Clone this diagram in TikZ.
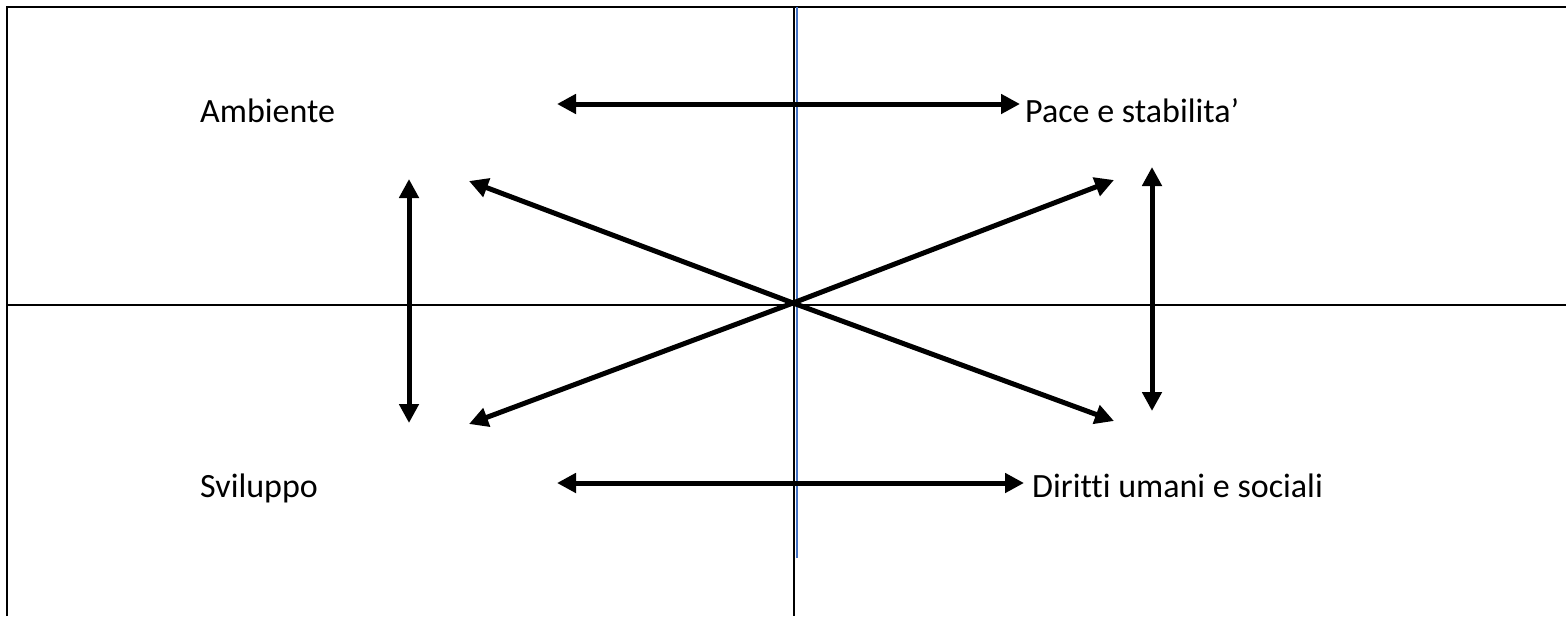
\documentclass[tikz,border=0pt]{standalone}
\usepackage{fontspec}
\setmainfont[Ligatures=NoCommon]{Carlito}
\usetikzlibrary{arrows.meta}
\tikzset{
  frame/.style={line width=1.8pt, black},
  link/.style={line width=5pt, black, {Triangle[length=19pt,width=19pt]}-{Triangle[length=19pt,width=19pt]}},
  ray/.style={line width=5pt, black, -{Triangle[length=19pt,width=19pt]}},
  label/.style={font=\fontsize{34}{40}\selectfont, anchor=base west, inner sep=0pt}
}
\begin{document}
\begin{tikzpicture}[x=1pt,y=-1pt]
\useasboundingbox (0,0) rectangle (1566,616);
% table grid
\draw[frame] (7,616) -- (7,7) -- (1566,7);
\draw[frame] (7,305) -- (1566,305);
\draw[frame] (794,7) -- (794,616);
\draw[line width=2pt, color={rgb,255:red,68;green,114;blue,196}] (796.5,7) -- (796.5,558);
% labels
\node[label] (amb) at (200,122) {Ambiente};
\node[label] (pace) at (1025,122) {Pace e stabilita’};
\node[label] (svi) at (200,497) {Sviluppo};
\node[label] (dir) at (1032,497) {Diritti umani e sociali};
% arrow end points
\coordinate (c) at (793,303);
\coordinate (tl) at (557,104);
\coordinate (tr) at (1020,104);
\coordinate (bl) at (557,483);
\coordinate (br) at (1024,483);
\coordinate (lvt) at (409,179);
\coordinate (lvb) at (409,423);
\coordinate (rvt) at (1152,167);
\coordinate (rvb) at (1152,411);
\coordinate (dul) at (469,181);
\coordinate (dll) at (469,424);
\coordinate (dur) at (1114,180);
\coordinate (dlr) at (1114,421);
% connectors
\draw[link] (tl) -- (tr);
\draw[link] (bl) -- (br);
\draw[link] (lvt) -- (lvb);
\draw[link] (rvt) -- (rvb);
\draw[ray] (c) -- (dul);
\draw[ray] (c) -- (dll);
\draw[ray] (c) -- (dur);
\draw[ray] (c) -- (dlr);
\end{tikzpicture}
\end{document}
